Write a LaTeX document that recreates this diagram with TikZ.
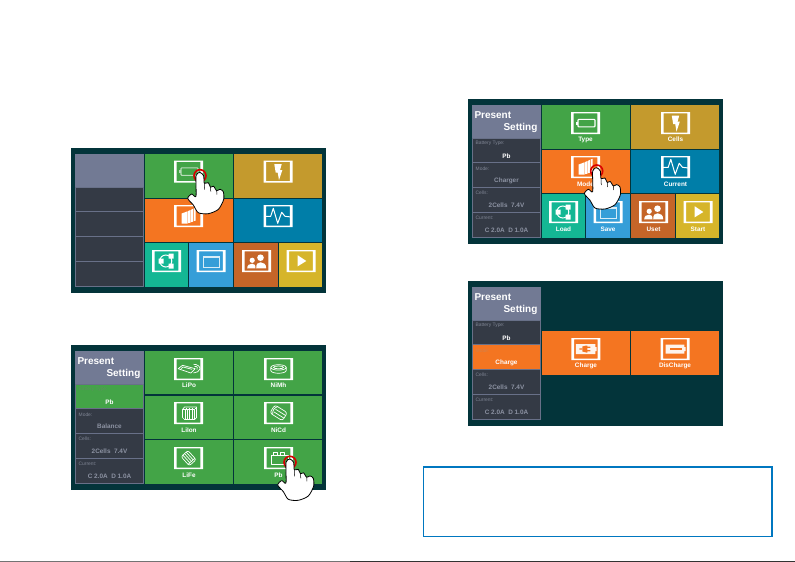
\documentclass[tikz,border=0pt]{standalone}
\usepackage{fontspec}
\setmainfont{Liberation Sans}
\definecolor{scrbg}{HTML}{03343A}
\definecolor{sidehead}{HTML}{727A94}
\definecolor{sidedark}{HTML}{343A45}
\definecolor{sideline}{HTML}{687088}
\definecolor{cgreen}{HTML}{43A447}
\definecolor{cgold}{HTML}{C49A2D}
\definecolor{corange}{HTML}{F47521}
\definecolor{cblue}{HTML}{007EA8}
\definecolor{cteal}{HTML}{14B794}
\definecolor{csky}{HTML}{359ED8}
\definecolor{cbrown}{HTML}{C56528}
\definecolor{cyellow}{HTML}{D6B52A}
\definecolor{boxblue}{HTML}{0077C0}
\definecolor{dimtext}{HTML}{8C92A2}
\definecolor{dimlabel}{HTML}{7F8594}
\tikzset{
  tilelabel/.style={text=white,inner sep=0pt,font=\fontsize{6.4}{7}\selectfont\bfseries},
  rowlabel/.style={inner sep=0pt,anchor=west,font=\fontsize{4.9}{6}\selectfont},
  rowvalue/.style={inner sep=0pt,font=\fontsize{6.4}{7}\selectfont\bfseries},
  headtext/.style={text=white,inner sep=0pt,font=\fontsize{10}{12}\selectfont\bfseries},
  icoline/.style={draw=white,line width=0.7pt,line join=round},
  handshape/.style={fill=white,draw=black,line width=0.8pt,line join=round},
}
% tile: name, x1, y1, x2, y2, colour
\newcommand{\tile}[6]{\fill[#6] (#2,#3) rectangle (#4,#5);\coordinate (#1) at ({(#2+#4)/2},{(#3+#5)/2});}
% icon frame and content: cx, cy, content
\newcommand{\icon}[3]{\begin{scope}[shift={(#1,#2)}]
  \fill[white,even odd rule] (-14.5,-11) rectangle (14.5,11) (-11.8,-9.6) rectangle (11.8,9.6);
  #3\end{scope}}
\newcommand{\icoBatt}[1]{\draw[draw=#1,line width=1.1pt,rounded corners=0.8pt] (-7.5,-3.6) rectangle (9.5,3.8);\fill[#1] (-9.3,-1.5) rectangle (-7.5,1.7);}
\newcommand{\icoBolt}{\fill[white] (-3.7,-7.3) -- (3.7,-7.3) -- (2,-1.3) -- (4.3,-1.3) -- (1,8.7) -- (-0.3,1) -- (-2.3,1) -- cycle;}
\newcommand{\icoDocs}{\fill[white] (-6.8,-2.5) -- (-1,-4.7) -- (-1,7.6) -- (-6.8,7.6) -- cycle
  (-0.3,-5) -- (2,-6) -- (2,6.6) -- (-0.3,7.1) -- cycle
  (2.7,-6.3) -- (4.7,-7.3) -- (4.7,5.6) -- (2.7,6.1) -- cycle
  (5.4,-7.5) -- (7,-8.2) -- (7,4.6) -- (5.4,5.1) -- cycle;}
\newcommand{\icoPulse}{\draw[white,line width=1pt,line join=round] (-13,0.3) -- (-7.3,0.3) -- (-4.7,-7.7) -- (-0.3,7.3) -- (3.7,-3.7) -- (7,0.3) -- (13,1);}
\newcommand{\icoLoad}{\draw[white,line width=1pt] (-0.7,0) circle (6);
  \fill[white] (2.2,-7.5) rectangle (7.2,-2.5) (2.2,2.5) rectangle (7.2,7.5) (-7.8,-2.5) rectangle (-2.8,2.5);}
\newcommand{\icoSave}{\draw[white!80!csky,line width=1pt] (-8,-5) rectangle (8,6);
  \fill[white!80!csky] (-8,-5) rectangle (8,-2.8);}
\newcommand{\icoUser}{\fill[white] (4,-3.3) circle (3.3) (-4.3,-0.7) circle (2.6);
  \fill[white] (-0.3,7.3) .. controls (-0.3,3) and (1,1.3) .. (4,1.3) .. controls (7,1.3) and (9.7,3) .. (9.7,7.3) -- cycle;
  \fill[white] (-9.3,7.3) .. controls (-9.3,4) and (-7,2.7) .. (-4.3,2.7) .. controls (-2,2.7) and (-1,4) .. (-1,7.3) -- cycle;}
\newcommand{\icoStart}{\fill[white] (-3.3,-5.7) -- (5.3,0) -- (-3.3,5.3) -- cycle;}
\newcommand{\icoLiPo}{\draw[icoline] (-10.3,-0.3) -- (-6,-3.7) -- (6.7,-0.3) -- (2.3,4) -- cycle;
  \draw[icoline] (-7.5,-0.3) -- (-5.5,-2) -- (3.5,0.3);
  \draw[icoline] (5,-4.7) .. controls (9,-5) and (12,-2) .. (11.5,0) .. controls (11,2) and (8,4) .. (5,4);
  \draw[icoline] (6,-2.5) .. controls (9,-3) and (9.5,-1) .. (8.5,0.5);}
\newcommand{\icoNiMh}{\draw[icoline] (0,-1.6) ellipse [x radius=7.7,y radius=2.7];
  \draw[icoline] (-7.7,-1.6) -- (-7.7,1.4) .. controls (-7.7,5.2) and (7.7,5.2) .. (7.7,1.4) -- (7.7,-1.6);
  \draw[icoline] (0,-1.6) ellipse [x radius=5,y radius=1.4];}
\newcommand{\icoLiIon}{\draw[icoline] (-6,-3.5) -- (6,-3.5) -- (6,6.5) -- (-4,6.5) -- (-6,4.5) -- cycle;
  \draw[icoline] (-6,-3.5) -- (-4,-6) -- (8,-6) -- (8,4.5) -- (6,6.5);
  \draw[icoline,line width=0.5pt] (-3.6,-3.5) -- (-3.6,6.5) (-1.2,-3.5) -- (-1.2,6.5) (1.2,-3.5) -- (1.2,6.5) (3.6,-3.5) -- (3.6,6.5);
  \draw[icoline,line width=1pt,dotted] (-3,-5) -- (7,-5);}
\newcommand{\icoNiCd}{\begin{scope}[rotate=-32,scale=0.82]
  \draw[icoline,rounded corners=2.5pt] (-9,-6) rectangle (9,5.5);
  \draw[icoline] (-5,-6) .. controls (-8,-3) and (-8,2) .. (-5,5.5);
  \draw[icoline] (-5.5,-2) -- (9,-2) (-5.5,1.8) -- (9,1.8);
  \end{scope}}
\newcommand{\icoLiFe}{\begin{scope}[rotate=-48,scale=0.74]
  \draw[icoline,rounded corners=2pt] (-8,-6.2) rectangle (8.5,6.2);
  \draw[icoline] (-8,-3) -- (6,-3) (-8,0) -- (6,0) (-8,3) -- (6,3);
  \draw[icoline] (6,-6.2) -- (6,6.2);
  \end{scope}}
\newcommand{\icoPb}{\draw[icoline] (-7.3,-3) rectangle (10,6);
  \draw[icoline] (-4.7,-5.4) rectangle (-1,-3) (2,-5.4) rectangle (5.7,-3);}
\newcommand{\icoCharge}{\fill[white!92!corange] (-10,-5) rectangle (9.5,5) (9.5,-2) rectangle (10.8,2);
  \fill[corange] (-6.5,-0.6) rectangle (-3,0.6) (-3.5,-2.5) -- (0.5,-3.5) -- (1.5,-3.5) -- (1.5,3.5) -- (0.5,3.5) -- (-3.5,2.5) -- cycle
   (1.5,-2.3) rectangle (4.5,-1.2) (1.5,1.2) rectangle (4.5,2.3);}
\newcommand{\icoDis}{\fill[white!92!corange] (-9.3,-4.5) rectangle (9.3,4.5) (9.3,-2) rectangle (10.7,2);
  \fill[corange] (-5,-1.2) rectangle (7,1.2);}
% side panel frame
\newcommand{\sideframe}[1]{\fill[sideline] (3.5,5.7) rectangle (73.2,139);
  \fill[sidehead] (3.5,5.7) rectangle (73.2,39);\coordinate (#1) at (38,22);}
% side row: name, top, bottom, fill
\newcommand{\siderow}[4]{\fill[#4] (4.6,#2+0.5) rectangle (72.1,#3-0.5);\coordinate (#1) at (38,{(#2+#3)/2});}
% row texts: prefix, top, label, label colour, value, value colour
\newcommand{\rowtexts}[6]{\node[rowlabel,text=#4] (#1l) at (7.5,#2+5.7) {#3};
  \node[rowvalue,text=#6] (#1v) at (38.5,#2+17.8) {#5};}
\newcommand{\headtexts}[1]{\node[headtext,anchor=base west] (#1p) at (6.3,19.3) {Present};
  \node[headtext,anchor=base east] (#1s) at (69.6,31.2) {Setting};}
% hand: ring centre, names
\newcommand{\hand}[3]{\begin{scope}[shift={(#1,#2)}]
  \draw[red!85!black,line width=1.6pt] (0,0) circle (6) ;
  \coordinate (#3) at (0,0);
  \draw[handshape] plot[smooth cycle,tension=0.45] coordinates {(0,-3.2) (3.6,0) (4.3,7.5) (8.3,7) (10.5,11.5) (13.5,10.5) (16.7,15) (20,13.6) (23.3,16) (23.6,24) (18.3,33.7) (8.3,38) (-1.7,37) (-6.7,29.3) (-12.3,22.7) (-8.3,18.3) (-4,20.5) (-4,0)};
  \draw[black,line width=0.5pt] (4.3,7.5) -- (4.6,14) (10.5,11.5) -- (10.8,16) (16.7,15) -- (16.9,19);
  \end{scope}}
\begin{document}
\begin{tikzpicture}[x=1pt,y=-1pt]
\useasboundingbox (0,0) rectangle (795,562);
\fill[white] (0,0) rectangle (795,562);

% ---------- screen A
\begin{scope}[shift={(71,148)}]
\fill[scrbg] (0,0) rectangle (255,145.3);
\sideframe{Ah}
\siderow{Ar1}{39}{63.7}{sidedark}\siderow{Ar2}{63.7}{88.5}{sidedark}\siderow{Ar3}{88.5}{113.5}{sidedark}\siderow{Ar4}{113.5}{138.5}{sidedark}
\tile{At1}{74}{6}{162}{50}{cgreen}\tile{At2}{163}{6}{251}{50}{cgold}
\tile{At3}{74}{51}{162}{94}{corange}\tile{At4}{163}{51}{251}{94}{cblue}
\tile{At5}{74}{95}{117}{139}{cteal}\tile{At6}{118}{95}{162}{139}{csky}
\tile{At7}{163}{95}{207}{139}{cbrown}\tile{At8}{208}{95}{251}{139}{cyellow}
\icon{117.5}{23.5}{\icoBatt{white!62!cgreen}}
\icon{207}{23.5}{\icoBolt}
\icon{117.5}{68}{\icoDocs}
\icon{207}{68}{\icoPulse}
\icon{95.5}{113}{\icoLoad}
\icon{140}{113}{\icoSave}
\icon{185.5}{113}{\icoUser}
\icon{230}{113}{\icoStart}
\end{scope}
\hand{200}{175.7}{handA}

% ---------- screen B
\begin{scope}[shift={(71,345)}]
\fill[scrbg] (0,0) rectangle (255,145);
\sideframe{Bh}
\siderow{Br1}{39}{63.7}{cgreen}\siderow{Br2}{63.7}{88.5}{sidedark}\siderow{Br3}{88.5}{113.5}{sidedark}\siderow{Br4}{113.5}{138.5}{sidedark}
\headtexts{B}
\rowtexts{Ba}{39}{Battery Type:}{white!30!cgreen!75!black}{Pb}{white}
\rowtexts{Bb}{63.7}{Mode:}{dimlabel}{Balance}{dimtext}
\rowtexts{Bc}{88.5}{Cells:}{dimlabel}{2Cells\ \ 7.4V}{dimtext}
\rowtexts{Bd}{113.5}{Current:}{dimlabel}{C 2.0A\ \ D 1.0A}{dimtext}
\tile{Bt1}{74}{6}{162}{49}{cgreen}\tile{Bt2}{163}{6}{251}{49}{cgreen}
\tile{Bt3}{74}{51}{162}{94}{cgreen}\tile{Bt4}{163}{51}{251}{94}{cgreen}
\tile{Bt5}{74}{95}{162}{139}{cgreen}\tile{Bt6}{163}{95}{251}{139}{cgreen}
\icon{117.5}{24}{\icoLiPo}\node[tilelabel] (Bl1) at (118,40.3) {LiPo};
\icon{207.5}{24}{\icoNiMh}\node[tilelabel] (Bl2) at (207.5,40.3) {NiMh};
\icon{117.5}{68}{\icoLiIon}\node[tilelabel] (Bl3) at (118,85.3) {LiIon};
\icon{207.5}{68}{\icoNiCd}\node[tilelabel] (Bl4) at (207.5,85.3) {NiCd};
\icon{117.5}{113}{\icoLiFe}\node[tilelabel] (Bl5) at (118,130.3) {LiFe};
\icon{207.5}{113}{\icoPb}\node[tilelabel] (Bl6) at (207.5,130.3) {Pb};
\end{scope}
\hand{290}{462.3}{handB}

% ---------- screen C
\begin{scope}[shift={(468,99)}]
\fill[scrbg] (0,0) rectangle (255,145);
\sideframe{Ch}
\siderow{Cr1}{39}{63.7}{sidedark}\siderow{Cr2}{63.7}{88.5}{sidedark}\siderow{Cr3}{88.5}{113.5}{sidedark}\siderow{Cr4}{113.5}{138.5}{sidedark}
\headtexts{C}
\rowtexts{Ca}{39}{Battery Type:}{dimlabel}{Pb}{white}
\rowtexts{Cb}{63.7}{Mode:}{dimlabel}{Charger}{dimtext}
\rowtexts{Cc}{88.5}{Cells:}{dimlabel}{2Cells\ \ 7.4V}{dimtext}
\rowtexts{Cd}{113.5}{Current:}{dimlabel}{C 2.0A\ \ D 1.0A}{dimtext}
\tile{Ct1}{74}{6}{162}{50}{cgreen}\tile{Ct2}{163}{6}{251}{50}{cgold}
\tile{Ct3}{74}{51}{162}{94}{corange}\tile{Ct4}{163}{51}{251}{94}{cblue}
\tile{Ct5}{74}{95}{117}{139}{cteal}\tile{Ct6}{118}{95}{162}{139}{csky}
\tile{Ct7}{163}{95}{207}{139}{cbrown}\tile{Ct8}{208}{95}{251}{139}{cyellow}
\icon{117.5}{24}{\icoBatt{white}}\node[tilelabel] (Cl1) at (117.5,40.7) {Type};
\icon{207.5}{24}{\icoBolt}\node[tilelabel] (Cl2) at (207.5,40.7) {Cells};
\icon{117.5}{68}{\icoDocs}\node[tilelabel] (Cl3) at (117.5,85) {Mode};
\icon{207.5}{68}{\icoPulse}\node[tilelabel] (Cl4) at (207.5,85) {Current};
\icon{95.5}{113}{\icoLoad}\node[tilelabel] (Cl5) at (95.5,130.5) {Load};
\icon{140}{113}{\icoSave}\node[tilelabel] (Cl6) at (140,130.5) {Save};
\icon{185.5}{113}{\icoUser}\node[tilelabel] (Cl7) at (185.5,130.5) {Uset};
\icon{230}{113}{\icoStart}\node[tilelabel] (Cl8) at (230,130.5) {Start};
\end{scope}
\hand{596.7}{171}{handC}

% ---------- screen D
\begin{scope}[shift={(468,281)}]
\fill[scrbg] (0,0) rectangle (255,145);
\sideframe{Dh}
\siderow{Dr1}{39}{63.7}{sidedark}\siderow{Dr2}{63.7}{88.5}{corange}\siderow{Dr3}{88.5}{113.5}{sidedark}\siderow{Dr4}{113.5}{138.5}{sidedark}
\headtexts{D}
\rowtexts{Da}{39}{Battery Type:}{dimlabel}{Pb}{white}
\rowtexts{Db}{63.7}{Mode:}{white!25!corange!85!black}{Charge}{white}
\rowtexts{Dc}{88.5}{Cells:}{dimlabel}{2Cells\ \ 7.4V}{dimtext}
\rowtexts{Dd}{113.5}{Current:}{dimlabel}{C 2.0A\ \ D 1.0A}{dimtext}
\tile{Dt1}{74}{50}{162}{94}{corange}\tile{Dt2}{163}{50}{251}{94}{corange}
\icon{117.8}{68}{\icoCharge}\node[tilelabel] (Dl1) at (118,85.3) {Charge};
\icon{207}{68}{\icoDis}\node[tilelabel] (Dl2) at (207,85.3) {DisCharge};
\end{scope}

% ---------- empty blue box
\node[draw=boxblue,line width=1.4pt,inner sep=0pt,minimum width=348.6pt,minimum height=69.4pt] (note) at (597.7,501.5) {};

% ---------- bottom rule
\coordinate (ruleL) at (0,561.5);\coordinate (ruleM) at (350,561.5);\coordinate (ruleR) at (795,561.5);
\draw[black!55,line width=1pt] (ruleL) -- (ruleM);
\draw[black!80,line width=1pt] (ruleM) -- (ruleR);
\end{tikzpicture}
\end{document}
